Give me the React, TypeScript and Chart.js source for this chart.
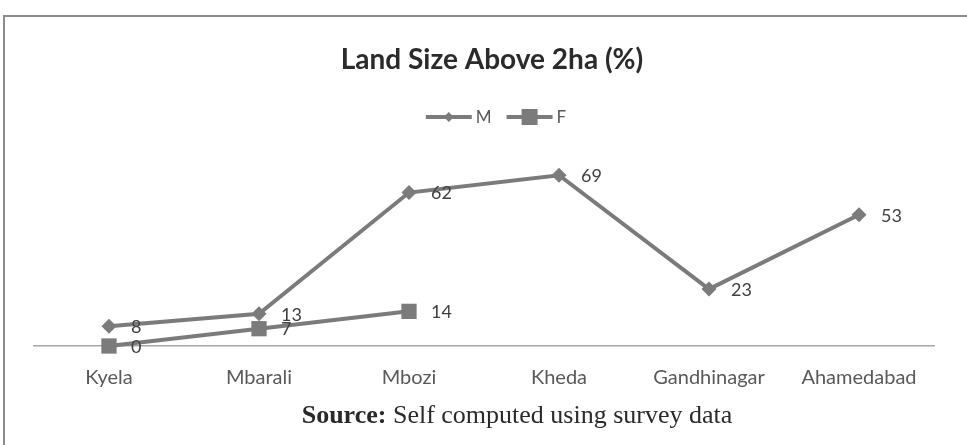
import React, { useEffect, useRef } from "react";
import { Chart, registerables } from "chart.js";

Chart.register(...registerables);

const categories = ["Kyela", "Mbarali", "Mbozi", "Kheda", "Gandhinagar", "Ahamedabad"];
const seriesM = [8, 13, 62, 69, 23, 53];
const seriesF: (number | null)[] = [0, 7, 14, null, null, null];
const seriesNames = ["M", "F"];
const seriesMarkers = ["diamond", "square"];
const titleText = "Land Size Above 2ha (%)";

const LINE = "#7b7b7b";
const FONT = "Lato, 'Open Sans', sans-serif";

const valueLabels = {
  id: "valueLabels",
  afterDatasetsDraw(chart: any) {
    const ctx = chart.ctx;
    ctx.save();
    ctx.font = `18px ${FONT}`;
    ctx.fillStyle = "#404040";
    ctx.textAlign = "left";
    ctx.textBaseline = "middle";
    chart.data.datasets.forEach((ds: any, i: number) => {
      const meta = chart.getDatasetMeta(i);
      meta.data.forEach((pt: any, j: number) => {
        const v = ds.data[j];
        if (v === null || v === undefined) return;
        ctx.fillText(String(v), pt.x + 22, pt.y + 1);
      });
    });
    ctx.restore();
  },
};

// Title and Excel-style legend (line + marker) drawn on the canvas
const headerPlugin = {
  id: "header",
  afterDraw(chart: any) {
    const ctx = chart.ctx;
    ctx.save();
    ctx.font = `bold 28px ${FONT}`;
    ctx.fillStyle = "#2b2b2b";
    ctx.textAlign = "center";
    ctx.textBaseline = "middle";
    ctx.fillText(titleText, 492, 60);

    const symW = 46;
    const textGap = 4;
    const itemGap = 15;
    ctx.font = `17px ${FONT}`;
    const widths = seriesNames.map((n) => ctx.measureText(n).width);
    const total = widths.reduce((a, w) => a + symW + textGap + w, 0) + itemGap * (seriesNames.length - 1);
    let x = 496 - total / 2;
    const y = 117;
    seriesNames.forEach((name, i) => {
      ctx.strokeStyle = LINE;
      ctx.fillStyle = LINE;
      ctx.lineWidth = 4;
      ctx.beginPath();
      ctx.moveTo(x, y);
      ctx.lineTo(x + symW, y);
      ctx.stroke();
      const cx = x + symW / 2;
      if (seriesMarkers[i] === "diamond") {
        ctx.beginPath();
        ctx.moveTo(cx, y - 5);
        ctx.lineTo(cx + 5, y);
        ctx.lineTo(cx, y + 5);
        ctx.lineTo(cx - 5, y);
        ctx.closePath();
        ctx.fill();
      } else {
        ctx.fillRect(cx - 8, y - 8, 16, 16);
      }
      ctx.fillStyle = "#595959";
      ctx.textAlign = "left";
      ctx.fillText(name, x + symW + textGap, y + 1);
      x += symW + textGap + widths[i] + itemGap;
    });
    ctx.restore();
  },
};

export default function App() {
  const ref = useRef<HTMLCanvasElement>(null);
  useEffect(() => {
    if (!ref.current) return;
    const chart = new Chart(ref.current, {
      type: "line",
      data: {
        labels: categories,
        datasets: [
          {
            label: seriesNames[0],
            data: seriesM,
            borderColor: LINE,
            backgroundColor: LINE,
            borderWidth: 4,
            pointStyle: "rectRot",
            pointRadius: 7.5,
            pointBackgroundColor: LINE,
            pointBorderColor: LINE,
            pointBorderWidth: 0,
            spanGaps: false,
            clip: false,
          },
          {
            label: seriesNames[1],
            data: seriesF,
            borderColor: LINE,
            backgroundColor: LINE,
            borderWidth: 4,
            pointStyle: "rect",
            pointRadius: 10.8,
            pointBackgroundColor: LINE,
            pointBorderColor: LINE,
            pointBorderWidth: 0,
            spanGaps: false,
            clip: false,
          },
        ],
      },
      options: {
        responsive: false,
        animation: false,
        layout: { padding: { left: 34, right: 33, top: 148, bottom: 35 } },
        plugins: {
          title: { display: false },
          legend: { display: false },
          tooltip: { enabled: false },
        },
        scales: {
          x: {
            offset: true,
            grid: { display: false, drawTicks: false },
            border: { display: true, color: "#a6a6a6", width: 1.5 },
            ticks: { color: "#595959", font: { family: FONT, size: 20 }, padding: 20 },
          },
          y: {
            display: false,
            min: 0,
            max: 80,
          },
        },
      },
      plugins: [valueLabels, headerPlugin],
    });
    return () => chart.destroy();
  }, []);

  return (
    <div style={{ position: "fixed", left: 0, top: 0, width: 967, height: 445, background: "#fff", overflow: "hidden" }}>
      <div
        style={{
          position: "absolute",
          left: 3,
          top: 15,
          width: 1000,
          height: 500,
          borderLeft: "2px solid #8c8c8c",
          borderTop: "2px solid #8c8c8c",
        }}
      />
      <canvas ref={ref} width={967} height={445} style={{ position: "absolute", left: 0, top: 0 }} />
      <div
        style={{
          position: "absolute",
          left: 0,
          width: 1034,
          top: 400,
          lineHeight: "30px",
          textAlign: "center",
          fontFamily: "'Liberation Serif', 'DejaVu Serif', serif",
          fontSize: 26,
          color: "#2a2a2a",
          whiteSpace: "nowrap",
        }}
      >
        <b>Source:</b> Self computed using survey data
      </div>
    </div>
  );
}
